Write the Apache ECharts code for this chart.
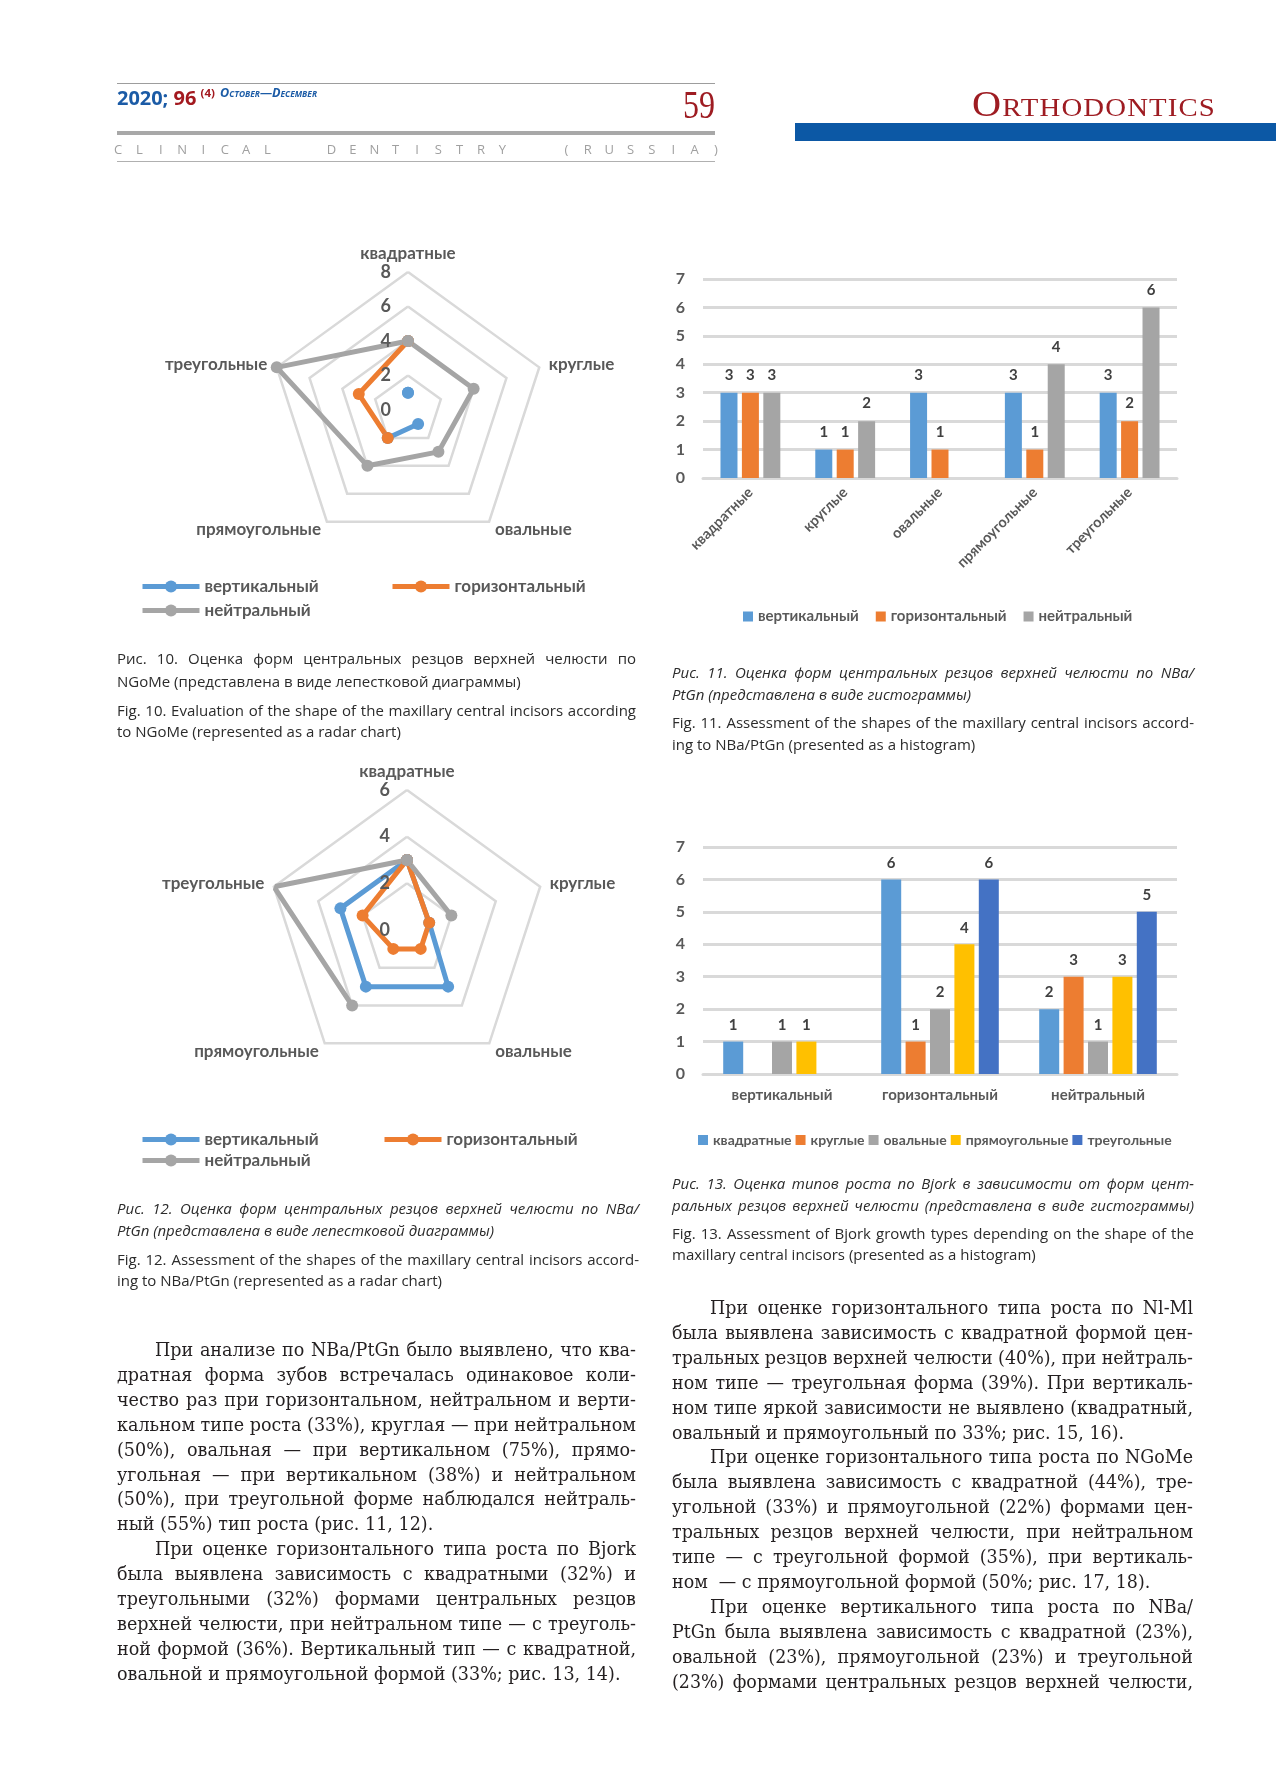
<!DOCTYPE html>
<html>
<head>
<meta charset="utf-8">
<script src="https://cdn.jsdelivr.net/npm/echarts@6/dist/echarts.min.js"></script>
<style>
html,body{margin:0;padding:0;background:#fff;}
#page{position:relative;width:1276px;height:1789px;overflow:hidden;background:#fff;}
#chart{position:absolute;left:0;top:0;width:1276px;height:1789px;}
.ln{position:absolute;white-space:pre;transform-origin:0 50%;}
.abs{position:absolute;white-space:nowrap;transform-origin:0 50%;}
</style>
</head>
<body>
<div id="page">
<div id="chart"></div>
</div>
<script>
// ---------------- data ----------------
const shapeCats = ['квадратные', 'круглые', 'овальные', 'прямоугольные', 'треугольные'];
const growthTypes = ['вертикальный', 'горизонтальный', 'нейтральный'];

// Fig. 10 – NGoMe radar
const fig10Ticks = [0, 2, 4, 6, 8];
const fig10Vert = [1, null, 1, 2, null];
const fig10Hor = [4, null, null, 2, 3];
const fig10Neu = [4, 4, 3, 4, 8];

// Fig. 11 – NBa/PtGn bars
const fig11Ticks = [0, 1, 2, 3, 4, 5, 6, 7];
const fig11Vert = [3, 1, 3, 3, 3];
const fig11Hor = [3, 1, 1, 1, 2];
const fig11Neu = [3, 2, null, 4, 6];

// Fig. 12 – NBa/PtGn radar
const fig12Ticks = [0, 2, 4, 6];
const fig12Vert = [3, 1, 3, 3, 3];
const fig12Hor = [3, 1, 1, 1, 2];
const fig12Neu = [3, 2, null, 4, 6];

// Fig. 13 – Bjork bars (per growth type)
const fig13Ticks = [0, 1, 2, 3, 4, 5, 6, 7];
const fig13Square = [1, 6, 2];
const fig13Round = [null, 1, 3];
const fig13Oval = [1, 2, 1];
const fig13Rect = [1, 4, 3];
const fig13Tri = [null, 6, 5];

// ---------------- styles ----------------
const COL = {blue: '#5b9bd5', orange: '#ed7d31', gray: '#a5a5a5', yellow: '#ffc000', dblue: '#4472c4'};
const TXT = '#595959';
const FONT = 'Lato';

function loop(vals) {
  const pts = shapeCats.map((c, i) => [vals[i] == null ? '-' : vals[i], i]);
  pts.push([vals[0] == null ? '-' : vals[0], shapeCats.length]);
  return pts;
}
const ccw = [0, 4, 3, 2, 1];
function radarComp(center, radius, max, n) {
  return {
    center: center, radius: radius, startAngle: 90, shape: 'polygon', splitNumber: n,
    indicator: ccw.map(i => ({name: shapeCats[i], min: 0, max: max})),
    axisName: {color: TXT, fontSize: 17, fontWeight: 'bold', fontFamily: FONT},
    nameGap: 10,
    axisLine: {show: false}, axisTick: {show: false}, axisLabel: {show: false},
    splitLine: {lineStyle: {color: '#d9d9d9', width: 2.5}},
    splitArea: {show: false}
  };
}
function radarLine(name, pi, vals, color) {
  return {
    type: 'line', name: name, coordinateSystem: 'polar', polarIndex: pi,
    data: loop(vals), connectNulls: false, symbol: 'circle', symbolSize: 12, showSymbol: true,
    lineStyle: {width: 5, color: color}, itemStyle: {color: color},
    emphasis: {disabled: true}, z: 5, silent: true
  };
}
function barSeries(name, gi, vals, color, w, gap, dist) {
  return {
    type: 'bar', name: name, xAxisIndex: gi, yAxisIndex: gi, data: vals,
    barWidth: w, barGap: gap, itemStyle: {color: color},
    label: {show: true, position: 'top', distance: dist, fontFamily: FONT, fontWeight: 'bold', fontSize: 15, color: '#404040'},
    emphasis: {disabled: true}, silent: true
  };
}
function lineLegend(name, left, top) {
  return {data: [name], left: left, top: top, itemWidth: 57, itemHeight: 15, itemGap: 0,
    lineStyle: {width: 5}, itemStyle: {borderWidth: 0},
    textStyle: {fontFamily: FONT, fontWeight: 'bold', fontSize: 17, color: TXT}, selectedMode: false};
}
function rectLegend(names, left, top, gap, fs) {
  return {data: names, left: left, top: top, icon: 'rect', itemWidth: 10, itemHeight: 10, itemGap: gap,
    textStyle: {fontFamily: FONT, fontWeight: 'bold', fontSize: fs, color: TXT}, selectedMode: false};
}
function radiusAx(pi, ticks) {
  return {polarIndex: pi, type: 'value', min: ticks[0], max: ticks[ticks.length - 1], interval: ticks[1] - ticks[0],
    axisLine: {show: false}, axisTick: {show: false}, splitLine: {show: false}, splitArea: {show: false},
    axisLabel: {margin: 17, fontFamily: FONT, fontWeight: 'bold', fontSize: 18, color: TXT}, z: 6};
}
function catX(gi, cats, rotate, margin, fs) {
  return {gridIndex: gi, type: 'category', data: cats,
    axisLine: {lineStyle: {color: '#d9d9d9', width: 3}}, axisTick: {show: false},
    axisLabel: {interval: 0, rotate: rotate, margin: margin, fontFamily: FONT, fontWeight: 'bold', fontSize: fs, color: TXT}};
}
function valY(gi, ticks) {
  return {gridIndex: gi, type: 'value', min: ticks[0], max: ticks[ticks.length - 1], interval: ticks[1] - ticks[0],
    axisLine: {show: false}, axisTick: {show: false},
    splitLine: {lineStyle: {color: '#d9d9d9', width: 3}},
    axisLabel: {margin: 18, fontFamily: FONT, fontWeight: 'bold', fontSize: 16, color: TXT}};
}

const option = {
  animation: false,
  textStyle: {fontFamily: FONT},
  radar: [radarComp([408, 410], 138, 8, 4), radarComp([407, 930], 140, 6, 3)],
  polar: [{center: [408, 410], radius: 138}, {center: [407, 930], radius: 140}],
  angleAxis: [
    {polarIndex: 0, type: 'value', min: 0, max: shapeCats.length, startAngle: 90, clockwise: true, show: false},
    {polarIndex: 1, type: 'value', min: 0, max: shapeCats.length, startAngle: 90, clockwise: true, show: false}
  ],
  radiusAxis: [radiusAx(0, fig10Ticks), radiusAx(1, fig12Ticks)],
  grid: [
    {left: 703, top: 279, width: 474, height: 199, containLabel: false},
    {left: 703, top: 847, width: 474, height: 227, containLabel: false}
  ],
  xAxis: [catX(0, shapeCats, 45, 12, 14.5), catX(1, growthTypes, 0, 14, 15)],
  yAxis: [valY(0, fig11Ticks), valY(1, fig13Ticks)],
  legend: [
    lineLegend(growthTypes[0], 135, 573),
    lineLegend(growthTypes[1], 385, 573),
    lineLegend(growthTypes[2], 135, 597),
    rectLegend(growthTypes, 738, 604, 17, 15),
    lineLegend(growthTypes[0], 135, 1126),
    lineLegend(growthTypes[1], 377, 1126),
    lineLegend(growthTypes[2], 135, 1147),
    rectLegend(shapeCats, 693, 1128, 4, 14)
  ],
  series: [
    radarLine(growthTypes[0], 0, fig10Vert, COL.blue),
    radarLine(growthTypes[1], 0, fig10Hor, COL.orange),
    radarLine(growthTypes[2], 0, fig10Neu, COL.gray),
    radarLine(growthTypes[0], 1, fig12Vert, COL.blue),
    radarLine(growthTypes[1], 1, fig12Hor, COL.orange),
    radarLine(growthTypes[2], 1, fig12Neu, COL.gray),
    barSeries(growthTypes[0], 0, fig11Vert, COL.blue, 17, '26%', 10),
    barSeries(growthTypes[1], 0, fig11Hor, COL.orange, 17, '26%', 10),
    barSeries(growthTypes[2], 0, fig11Neu, COL.gray, 17, '26%', 10),
    barSeries(shapeCats[0], 1, fig13Square, COL.blue, 20, '22%', 9),
    barSeries(shapeCats[1], 1, fig13Round, COL.orange, 20, '22%', 9),
    barSeries(shapeCats[2], 1, fig13Oval, COL.gray, 20, '22%', 9),
    barSeries(shapeCats[3], 1, fig13Rect, COL.yellow, 20, '22%', 9),
    barSeries(shapeCats[4], 1, fig13Tri, COL.dblue, 20, '22%', 9)
  ]
};
const chart = echarts.init(document.getElementById('chart'), null, {renderer: 'canvas'});
chart.setOption(option);

// ---------------- page text ----------------
const page = document.getElementById('page');
const mctx = document.createElement('canvas').getContext('2d');
function mw(text, font) { mctx.font = font; return mctx.measureText(text).width; }
function el(tag, css, html) {
  const d = document.createElement(tag);
  d.style.cssText = css;
  if (html !== undefined) d.innerHTML = html;
  page.appendChild(d);
  return d;
}
function rect(x, y, w, h, c) { el('div', `position:absolute;left:${x}px;top:${y}px;width:${w}px;height:${h}px;background:${c}`); }

function block(lines, o) {
  const info = lines.map(L => {
    const font = `${L.it ? 'italic ' : ''}${o.weight || 400} ${o.size}px "${o.family}"`;
    const avail = o.width - (L.ind || 0);
    const nat = mw(L.t, font);
    return {L, font, avail, nat};
  });
  let s = 1;
  info.forEach(I => { s = Math.min(s, I.avail / I.nat); });
  info.forEach((I, k) => {
    const L = I.L;
    const y = (L.y != null ? L.y : o.y0 + k * o.lead);
    const d = el('div', `left:${o.x + (L.ind || 0)}px;top:${y - o.lh / 2}px;height:${o.lh}px;line-height:${o.lh}px;` +
      `font:${I.font};color:${o.color};transform:scaleX(${s});`, '');
    d.className = 'ln';
    d.textContent = L.t;
    if (L.j) {
      const spaces = (L.t.match(/ /g) || []).length;
      if (spaces > 0) d.style.wordSpacing = ((I.avail / s - I.nat) / spaces) + 'px';
    }
  });
}
function fitEl(d, w) {
  const r = d.getBoundingClientRect().width;
  d.style.transform = `scaleX(${w / r})`;
}

// header
rect(117, 83, 598, 1, '#9d9d9d');
rect(117, 131, 598, 4, '#a8a8a8');
rect(117, 161, 598, 1, '#b0b0b0');
rect(795, 123, 481, 18, '#0c58a5');
const h1 = el('div', 'left:117px;top:87px;line-height:22px;font-family:"Open Sans";font-weight:700;font-size:19px;',
  '<span style="color:#1b5ba6">2020;</span> <span style="color:#a3191f">96</span>' +
  '<span style="color:#a3191f;font-size:11px;position:relative;top:-8px;margin-left:4px">(4)</span> ' +
  '<span style="color:#1b5ba6;font-size:12px;font-style:italic;font-variant:small-caps;position:relative;top:-8px">October—December</span>');
h1.className = 'abs';
fitEl(h1, 200);
const h2 = el('div', 'left:683px;top:86px;line-height:38px;font-family:"Liberation Serif";font-size:40px;color:#9e1c22;', '59');
h2.className = 'abs';
fitEl(h2, 32);
const h3 = el('div', 'left:972px;top:88px;line-height:34px;font-family:"Liberation Serif";font-size:35px;font-variant:small-caps;color:#9e1c22;letter-spacing:1px', 'Orthodontics');
h3.className = 'abs';
fitEl(h3, 244);
const journal = 'CLINICAL  DENTISTRY  (RUSSIA)';
const pitch = 598 / (journal.length - 1);
for (let i = 0; i < journal.length; i++) {
  if (journal[i] === ' ') continue;
  el('div', `position:absolute;left:${117 + i * pitch - 4}px;top:141px;width:10px;text-align:center;line-height:16px;font-family:"Open Sans";font-size:13px;color:#a0a0a0`, journal[i]);
}

// captions
const capOpts = {width: 522, family: 'Open Sans', size: 15, color: '#2b2b2b', lh: 20};
block([
  {t: 'Рис. 10. Оценка форм центральных резцов верхней челюсти по', j: 1, y: 658},
  {t: 'NGoMe (представлена в виде лепестковой диаграммы)', y: 681},
  {t: 'Fig. 10. Evaluation of the shape of the maxillary central incisors according', j: 1, y: 710},
  {t: 'to NGoMe (represented as a radar chart)', y: 731}
], Object.assign({x: 117}, capOpts, {width: 519}));
block([
  {t: 'Рис. 11. Оценка форм центральных резцов верхней челюсти по NBa/', j: 1, it: 1, y: 672},
  {t: 'PtGn (представлена в виде гистограммы)', it: 1, y: 694},
  {t: 'Fig. 11. Assessment of the shapes of the maxillary central incisors accord-', j: 1, y: 722},
  {t: 'ing to NBa/PtGn (presented as a histogram)', y: 744}
], Object.assign({x: 672}, capOpts));
block([
  {t: 'Рис. 12. Оценка форм центральных резцов верхней челюсти по NBa/', j: 1, it: 1, y: 1208},
  {t: 'PtGn (представлена в виде лепестковой диаграммы)', it: 1, y: 1230},
  {t: 'Fig. 12. Assessment of the shapes of the maxillary central incisors accord-', j: 1, y: 1259},
  {t: 'ing to NBa/PtGn (represented as a radar chart)', y: 1280}
], Object.assign({x: 117}, capOpts));
block([
  {t: 'Рис. 13. Оценка типов роста по Bjork в зависимости от форм цент-', j: 1, it: 1, y: 1183},
  {t: 'ральных резцов верхней челюсти (представлена в виде гистограммы)', j: 1, it: 1, y: 1205},
  {t: 'Fig. 13. Assessment of Bjork growth types depending on the shape of the', j: 1, y: 1233},
  {t: 'maxillary central incisors (presented as a histogram)', y: 1254}
], Object.assign({x: 672}, capOpts));

// body text
const bodyOpts = {width: 519, family: 'DejaVu Serif', size: 19, color: '#231f20', lh: 26, lead: 24.9};
block([
  {t: 'При анализе по NBa/PtGn было выявлено, что ква-', j: 1, ind: 38},
  {t: 'дратная форма зубов встречалась одинаковое коли-', j: 1},
  {t: 'чество раз при горизонтальном, нейтральном и верти-', j: 1},
  {t: 'кальном типе роста (33%), круглая — при нейтральном', j: 1},
  {t: '(50%), овальная — при вертикальном (75%), прямо-', j: 1},
  {t: 'угольная — при вертикальном (38%) и нейтральном', j: 1},
  {t: '(50%), при треугольной форме наблюдался нейтраль-', j: 1},
  {t: 'ный (55%) тип роста (рис. 11, 12).'},
  {t: 'При оценке горизонтального типа роста по Bjork', j: 1, ind: 38},
  {t: 'была выявлена зависимость с квадратными (32%) и', j: 1},
  {t: 'треугольными (32%) формами центральных резцов', j: 1},
  {t: 'верхней челюсти, при нейтральном типе — с треуголь-', j: 1},
  {t: 'ной формой (36%). Вертикальный тип — с квадратной,', j: 1},
  {t: 'овальной и прямоугольной формой (33%; рис. 13, 14).'}
], Object.assign({x: 117, y0: 1351}, bodyOpts));
block([
  {t: 'При оценке горизонтального типа роста по Nl-Ml', j: 1, ind: 38},
  {t: 'была выявлена зависимость с квадратной формой цен-', j: 1},
  {t: 'тральных резцов верхней челюсти (40%), при нейтраль-', j: 1},
  {t: 'ном типе — треугольная форма (39%). При вертикаль-', j: 1},
  {t: 'ном типе яркой зависимости не выявлено (квадратный,', j: 1},
  {t: 'овальный и прямоугольный по 33%; рис. 15, 16).'},
  {t: 'При оценке горизонтального типа роста по NGoMe', j: 1, ind: 38},
  {t: 'была выявлена зависимость с квадратной (44%), тре-', j: 1},
  {t: 'угольной (33%) и прямоугольной (22%) формами цен-', j: 1},
  {t: 'тральных резцов верхней челюсти, при нейтральном', j: 1},
  {t: 'типе — с треугольной формой (35%), при вертикаль-', j: 1},
  {t: 'ном  — с прямоугольной формой (50%; рис. 17, 18).'},
  {t: 'При оценке вертикального типа роста по NBa/', j: 1, ind: 38},
  {t: 'PtGn была выявлена зависимость с квадратной (23%),', j: 1},
  {t: 'овальной (23%), прямоугольной (23%) и треугольной', j: 1},
  {t: '(23%) формами центральных резцов верхней челюсти,', j: 1}
], Object.assign({x: 672, y0: 1309}, bodyOpts, {width: 521}));
</script>
</body>
</html>
